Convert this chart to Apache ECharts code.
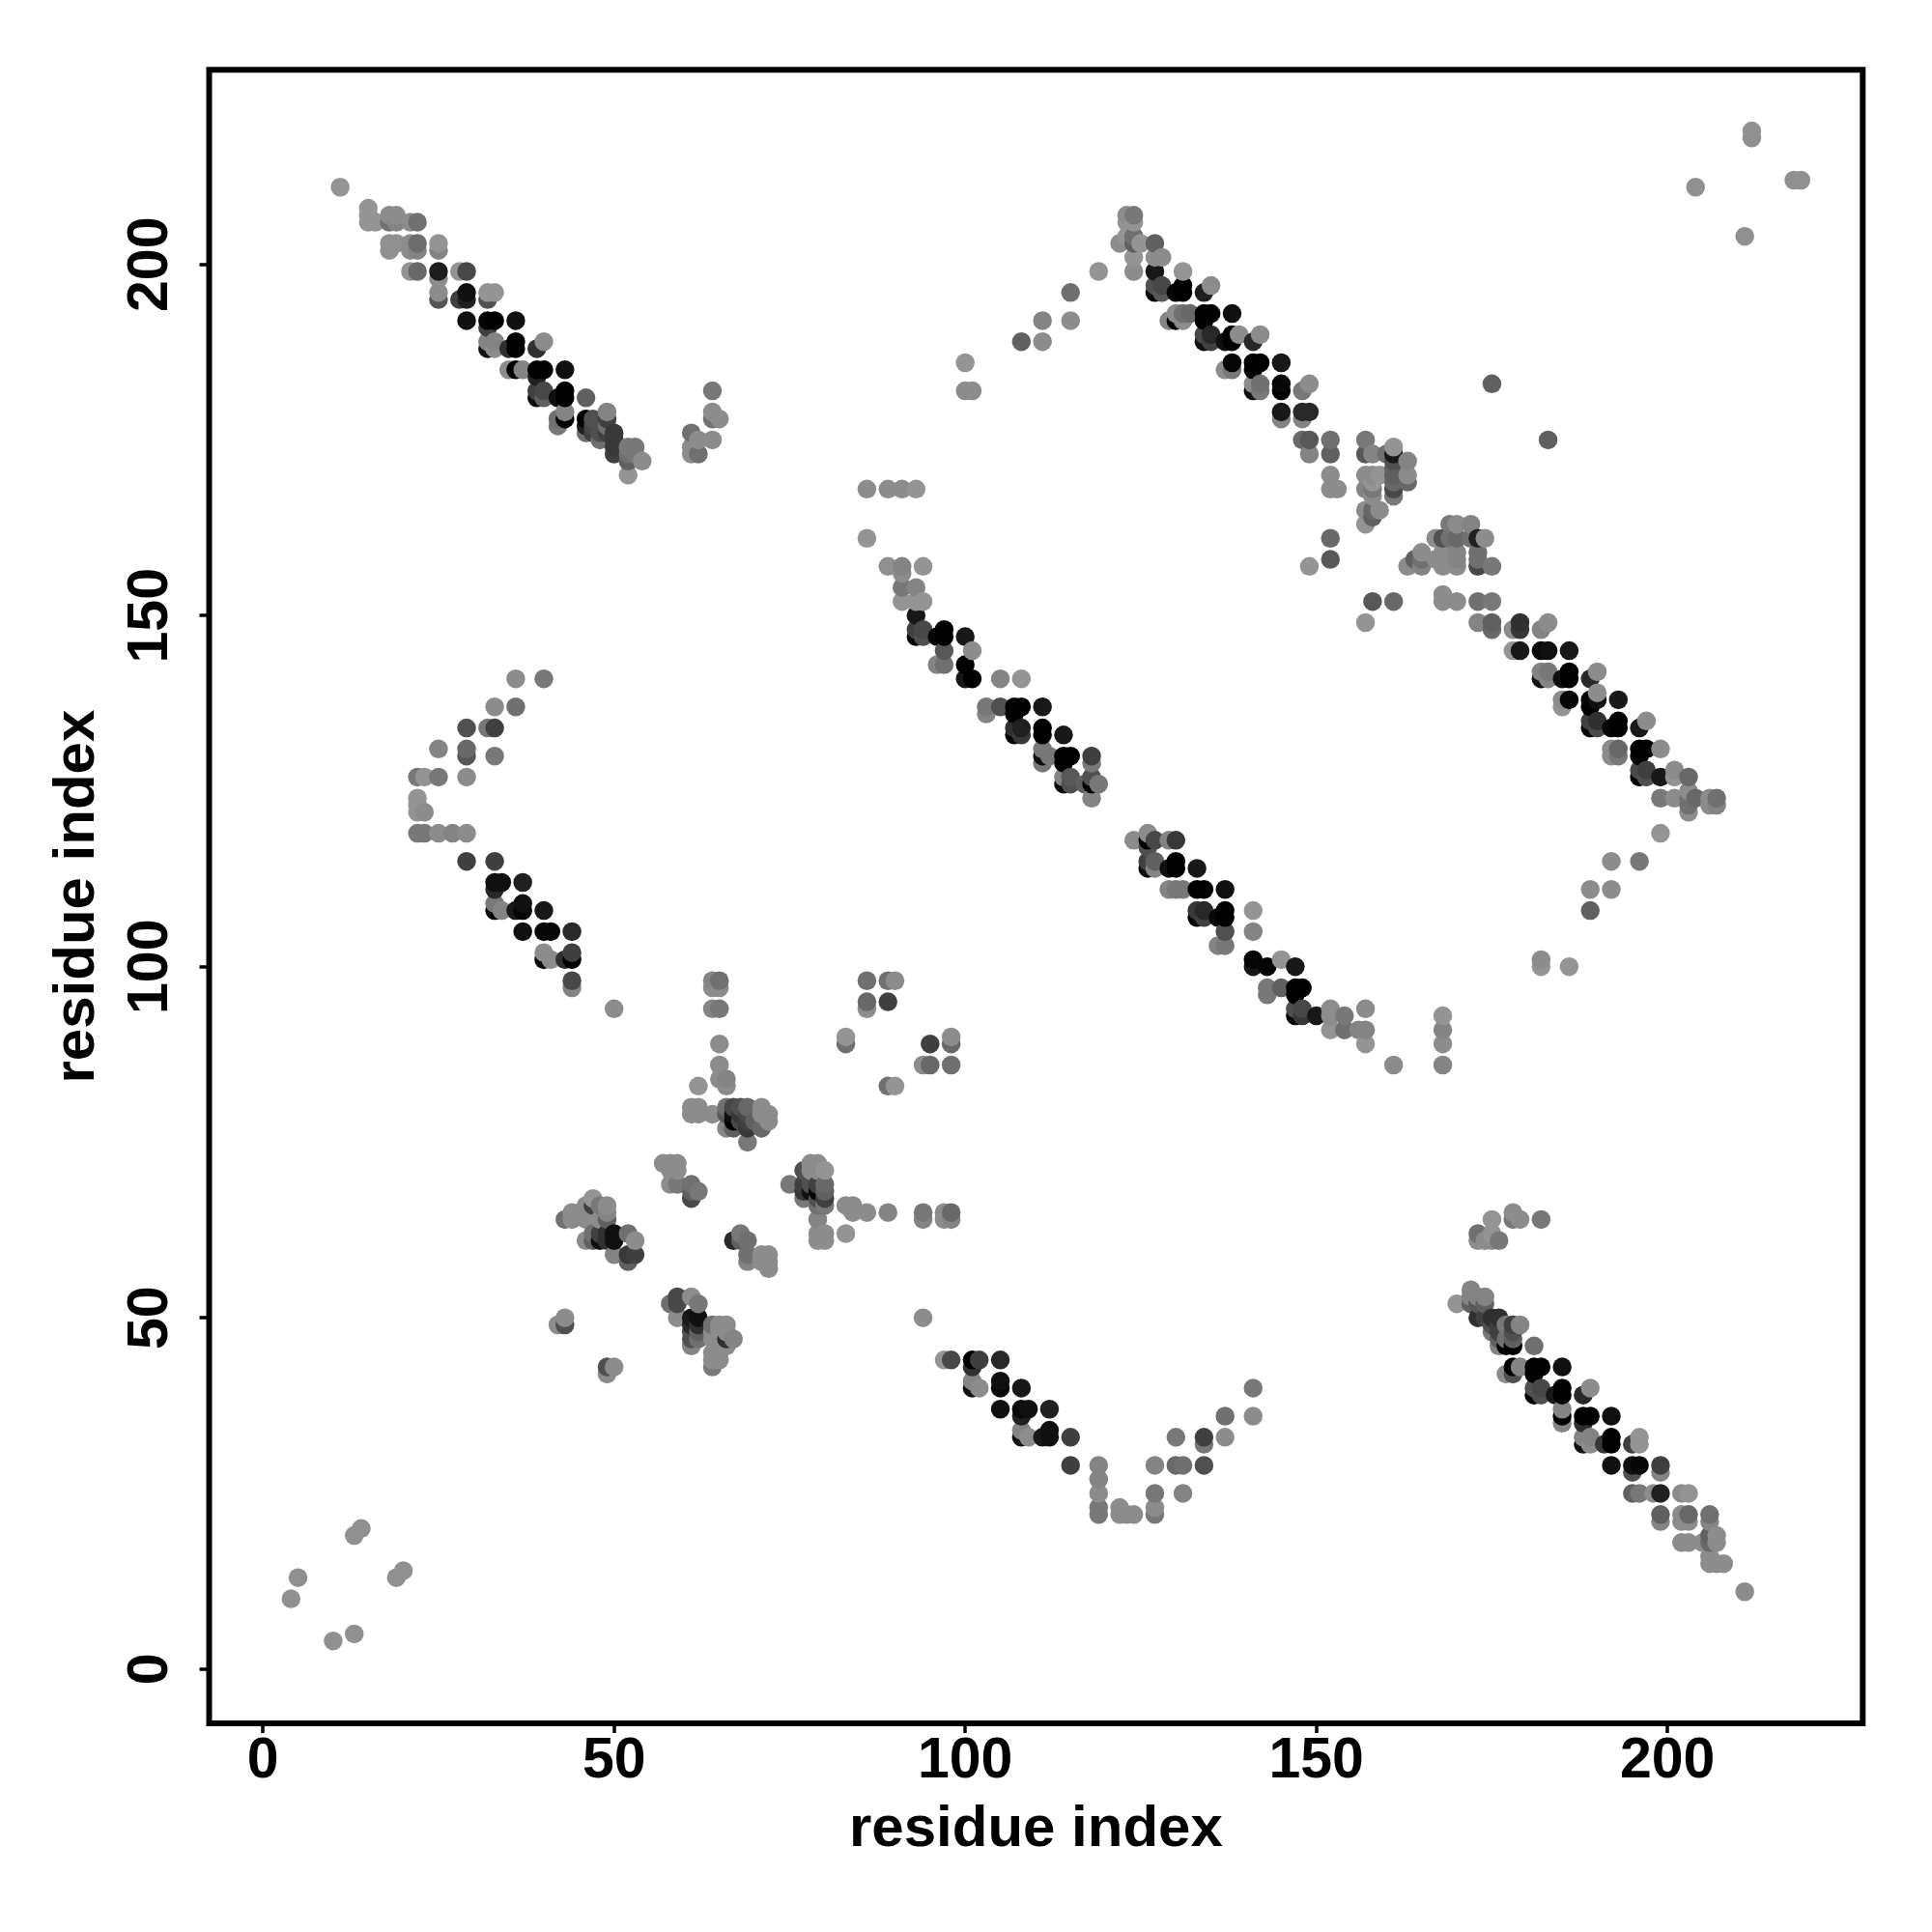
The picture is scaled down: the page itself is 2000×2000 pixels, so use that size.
<!DOCTYPE html>
<html><head><meta charset="utf-8"><title>Contact map</title>
<style>html,body{margin:0;padding:0;background:#fff}#c{width:2000px;height:2000px}</style>
<script src="https://cdn.jsdelivr.net/npm/echarts@6/dist/echarts.min.js"></script>
</head><body><div id="c"></div>
<script>
const axisTitle = "residue index";
const tickValues = [0, 50, 100, 150, 200];
// each contact: [residue i, residue j, grey level]
const cornerContacts = [[4,10,0x8c],[5,13,0x8c],[10,4,0x8c],[13,5,0x8c],[13,19,0x8c],[14,20,0x8c],[19,13,0x8c],[20,14,0x8c],
[204,211,0x8c],[211,204,0x8c],[212,219,0x8c],[212,218,0x8c],[218,212,0x8c],[219,212,0x8c]];
const helixTopLeft = [[11,211,0x90],[15,208,0x90],[15,207,0x90],[15,206,0x90],[16,206,0x90],[18,207,0x88],[19,207,0x88],[18,206,0x70],[19,206,0x80],[21,206,0x88],[22,206,0x70],
[18,203,0x8c],[18,202,0x8c],[19,203,0x8c],[21,203,0x88],[21,202,0x88],[22,203,0x6c],[22,202,0x80],[25,203,0x90],[25,202,0x80],[21,199,0x90],[22,199,0x68],[25,199,0x1c],[25,198,0x88],[25,196,0x88],[25,195,0x55],
[28,199,0x90],[29,199,0x48],[28,195,0x40],[29,196,0x10],[29,195,0x20],[32,196,0x90],[32,195,0x50],[33,196,0x90],[29,192,0x10],[32,192,0x05],[33,192,0x00],[36,192,0x10],[32,191,0x40],
[32,189,0x80],[32,188,0x10],[33,189,0x80],[33,188,0x88],[35,188,0x30],[36,189,0x00],[36,188,0x00],[39,188,0x30],[40,189,0x88],[35,185,0x88],[36,185,0x00],[37,185,0x80],[39,185,0x00],[40,185,0x00],[43,185,0x10],[39,184,0x20],
[39,182,0x40],[39,181,0x10],[40,182,0x48],[40,181,0x60],[42,181,0x10],[43,182,0x00],[43,181,0x00],[46,181,0x60],[43,179,0x80],[43,178,0x05],[42,178,0x70],[42,177,0x78],[46,178,0x00],[46,177,0x20],[46,176,0x70],
[47,178,0x50],[47,177,0x48],[47,176,0x40],[48,176,0x50],[48,175,0x70],[49,179,0x80],[49,178,0x40],[49,177,0x70],[49,176,0x40],[50,176,0x38],[50,175,0x38],[50,174,0x38],[50,173,0x40],
[52,174,0x78],[53,174,0x78],[52,172,0x60],[52,173,0x70],[53,173,0x78],[54,172,0x88],[52,170,0x90],
[64,182,0x78],[64,179,0x88],[64,178,0x70],[65,178,0x88],[61,176,0x70],[61,174,0x88],[61,173,0x88],[62,175,0x88],[62,173,0x70],[64,175,0x88]];
const helixTopMiddle = [[86,168,0x88],[89,168,0x88],[91,168,0x88],[93,168,0x90],[86,161,0x90],[100,186,0x90],[100,182,0x88],[101,182,0x88],[108,189,0x60],[111,189,0x88],[111,192,0x80],[115,192,0x88],[115,196,0x70],[119,199,0x90],
[123,207,0x88],[124,207,0x78],[123,206,0x90],[124,206,0x90],[122,203,0x88],[123,204,0x90],[124,204,0x70],[124,203,0x60],[125,203,0x90],[127,203,0x60],[124,201,0x90],[124,199,0x88],[127,201,0x88],[128,201,0x88],[127,199,0x18],[131,199,0x90],
[127,197,0x50],[127,196,0x05],[128,197,0x48],[128,196,0x58],[130,196,0x08],[131,197,0x00],[131,196,0x00],[134,196,0x20],[135,197,0x88],[130,193,0x88],[130,192,0x00],[129,192,0x80],[131,193,0x70],[131,192,0x88],[132,193,0x68],
[134,193,0x00],[135,193,0x00],[134,192,0x00],[138,193,0x10],[134,190,0x48],[134,189,0x10],[135,190,0x28],[135,189,0x40],[137,189,0x10],[138,190,0x00],[138,189,0x00],[139,190,0x88],[141,189,0x28],[142,190,0x88],
[137,185,0x88],[138,186,0x05],[138,185,0x78],[141,186,0x00],[142,186,0x00],[141,185,0x05],[145,186,0x18],[141,183,0x88],[141,182,0x10],[142,183,0x70],[142,182,0x78],[145,183,0x08],[145,182,0x00],[148,182,0x78],[149,183,0x88],
[145,179,0x18],[145,178,0x80],[148,179,0x28],[149,179,0x28],[148,178,0x80],[148,175,0x68],[149,175,0x58],[149,173,0x80],[152,175,0x70],[152,173,0x60],[152,170,0x88],[152,168,0x88],[153,168,0x88],[152,161,0x68],[152,158,0x58],[149,157,0x90]];
const helixRight = [[157,175,0x78],[157,173,0x58],[158,173,0x80],[160,173,0x70],[161,174,0x90],[161,173,0x18],[163,172,0x80],[161,172,0x50],[161,171,0x60],[161,170,0x60],[161,169,0x68],[161,168,0x48],[161,167,0x78],[163,170,0x88],[163,169,0x68],
[157,170,0x88],[158,170,0x88],[157,168,0x80],[158,169,0x90],[158,168,0x78],[158,167,0x88],[159,170,0x90],[157,165,0x88],[158,165,0x68],[158,164,0x60],[159,165,0x88],[157,163,0x90],[158,152,0x58],[161,152,0x68],[157,149,0x90],
[169,163,0x78],[170,163,0x88],[172,163,0x80],[167,161,0x88],[168,161,0x50],[169,161,0x70],[170,161,0x68],[172,161,0x70],[173,161,0x20],[174,161,0x88],[164,158,0x60],[165,159,0x88],[165,157,0x80],[165,158,0x70],[163,157,0x88],
[167,158,0x88],[168,159,0x88],[168,158,0x88],[168,157,0x88],[170,159,0x80],[170,158,0x80],[170,157,0x88],[173,159,0x70],[173,158,0x70],[173,157,0x48],[175,157,0x78],[168,153,0x88],[168,152,0x88],[170,152,0x88],[173,152,0x70],[175,152,0x78],
[173,149,0x80],[175,149,0x60],[175,148,0x68],[178,148,0x88],[179,149,0x30],[179,148,0x38],[182,148,0x80],[183,149,0x88],[178,145,0x90],[179,145,0x18],[182,145,0x08],[183,145,0x10],[186,145,0x18],
[182,142,0x80],[182,141,0x10],[183,142,0x78],[183,141,0x80],[185,141,0x10],[186,142,0x00],[186,141,0x00],[189,141,0x28],[190,142,0x88],[185,138,0x88],[185,137,0x90],[186,138,0x05],[189,138,0x05],[189,137,0x00],[190,138,0x10],[190,139,0x88],[193,138,0x18],
[189,135,0x40],[189,134,0x08],[190,135,0x30],[190,134,0x48],[192,134,0x08],[193,135,0x00],[193,134,0x00],[196,134,0x18],[197,135,0x88],[192,131,0x88],[192,130,0x88],[193,131,0x68],[193,130,0x78],[196,131,0x00],[197,131,0x00],[196,130,0x05],[199,131,0x88],
[196,128,0x48],[196,127,0x05],[197,128,0x40],[197,127,0x50],[199,127,0x18],[201,128,0x88],[201,127,0x90],[203,127,0x68],[199,124,0x78],[201,124,0x88],[203,125,0x88],[203,124,0x70],[203,123,0x70],[203,122,0x88],[204,124,0x68],[206,124,0x88],[206,123,0x88],[207,124,0x70],[207,123,0x80],[199,119,0x90],[183,175,0x60],[175,183,0x60]];
const helixCentreUpper = [[89,157,0x8c],[91,157,0x80],[91,156,0x88],[94,157,0x90],[91,154,0x78],[93,154,0x80],[91,152,0x90],[93,152,0x90],[94,152,0x90],[93,150,0x18],[93,148,0x40],[93,147,0x08],[94,148,0x48],[94,147,0x50],[96,147,0x08],[97,148,0x00],[97,147,0x00],
[100,147,0x18],[101,145,0x88],[97,145,0x58],[96,143,0x80],[97,143,0x70],[100,143,0x00],[100,141,0x18],[101,141,0x00],[105,141,0x80],[108,141,0x90],[103,137,0x78],[103,136,0x80],[105,137,0x50],[107,137,0x00],[108,137,0x00],[107,136,0x00],[111,137,0x18],
[107,134,0x30],[107,133,0x00],[108,134,0x20],[108,133,0x38],[111,134,0x00],[111,133,0x00],[114,133,0x18],[111,131,0x78],[111,130,0x10],[111,129,0x78],[112,130,0x78],[114,130,0x00],[115,130,0x00],[114,129,0x05],[118,130,0x40],[118,129,0x78],
[114,127,0x80],[114,126,0x08],[115,127,0x58],[115,126,0x50],[117,126,0x60],[118,127,0x50],[118,126,0x00],[119,126,0x78],[118,124,0x80]];
const helixCentreLower = [[124,118,0x88],[126,119,0x88],[126,118,0x00],[127,118,0x48],[126,117,0x50],[129,118,0x80],[130,118,0x38],[126,115,0x40],[126,114,0x10],[127,115,0x60],[127,114,0x80],[129,114,0x10],[130,115,0x00],[130,114,0x00],[133,114,0x18],
[129,111,0x80],[130,111,0x78],[131,111,0x78],[133,111,0x00],[134,111,0x00],[137,111,0x10],[141,108,0x90],[141,105,0x80],[133,108,0x38],[133,107,0x00],[134,108,0x28],[134,107,0x40],[136,107,0x08],[137,108,0x00],[137,107,0x00],[137,105,0x50],[136,103,0x80],[137,103,0x78],
[141,101,0x05],[141,100,0x18],[143,100,0x05],[145,101,0x90],[147,100,0x18],[143,97,0x78],[143,96,0x78],[145,97,0x60],[147,97,0x00],[148,97,0x00],[147,96,0x00],[147,94,0x50],[147,93,0x08],[148,94,0x48],[148,93,0x38],[150,93,0x18],
[152,94,0x88],[152,93,0x88],[152,91,0x90],[154,93,0x78],[154,91,0x70],[156,91,0x80],[157,91,0x80],[157,94,0x88],[157,89,0x90],[161,86,0x88],[168,93,0x90],[168,91,0x80],[168,89,0x88],[168,86,0x80],
[189,108,0x60],[189,111,0x88],[192,115,0x88],[192,111,0x88],[196,115,0x78],[182,101,0x88],[182,100,0x90],[186,100,0x90]];
const helixLeft = [[36,141,0x88],[40,141,0x78],[33,137,0x88],[36,137,0x70],[29,134,0x50],[32,134,0x78],[33,134,0x40],[25,131,0x80],[29,131,0x68],[29,130,0x58],[33,130,0x78],[22,127,0x78],[23,127,0x90],[25,127,0x78],[29,127,0x88],
[22,124,0x90],[22,123,0x90],[22,122,0x90],[23,122,0x88],[22,119,0x78],[23,119,0x78],[25,119,0x88],[27,119,0x80],[29,119,0x88],[29,115,0x40],[33,115,0x40],[33,112,0x10],[34,112,0x10],[33,111,0x28],[37,112,0x20],
[33,109,0x78],[33,108,0x05],[34,108,0x80],[36,108,0x18],[37,109,0x10],[37,108,0x05],[40,108,0x18],[37,105,0x10],[40,105,0x08],[41,105,0x08],[44,105,0x28],[40,102,0x88],[40,101,0x08],[41,101,0x88],[43,101,0x30],[44,102,0x40],[44,101,0x00],[44,98,0x48],[44,97,0x80],[50,94,0x88]];
const coreUpper = [[64,98,0x80],[65,98,0x70],[64,97,0x88],[65,97,0x88],[64,94,0x80],[65,94,0x78],[65,89,0x88],[65,86,0x88],[65,84,0x88],[66,84,0x80],[66,83,0x88],[62,83,0x90],[61,80,0x88],[62,80,0x88],[61,79,0x88],[62,79,0x88],[64,79,0x88],
[66,80,0x70],[67,80,0x48],[68,80,0x50],[69,80,0x68],[67,79,0x10],[67,78,0x00],[66,79,0x58],[68,79,0x38],[69,79,0x48],[66,77,0x80],[67,77,0x60],[68,78,0x48],[69,78,0x40],[69,77,0x38],[70,78,0x60],[71,77,0x68],[71,80,0x88],[72,79,0x88],[72,78,0x88],[71,79,0x88],[69,75,0x78],
[86,98,0x70],[89,98,0x70],[90,98,0x88],[86,95,0x68],[86,94,0x88],[89,95,0x40],[83,90,0x90],[83,89,0x70],[95,89,0x40],[98,90,0x88],[98,89,0x68],[94,86,0x88],[95,86,0x68],[98,86,0x70],[89,83,0x70],[90,83,0x90]];
const coreMiddle = [[57,72,0x88],[58,72,0x88],[59,72,0x88],[58,71,0x88],[59,71,0x88],[58,69,0x88],[59,69,0x78],[61,69,0x70],[61,68,0x60],[62,68,0x78],[61,67,0x48],
[75,69,0x78],[77,71,0x50],[77,69,0x40],[77,68,0x38],[77,67,0x78],[78,72,0x88],[79,72,0x88],[78,71,0x88],[79,71,0x88],[80,71,0x90],[78,69,0x50],[78,68,0x10],[79,68,0x05],[79,69,0x40],[79,67,0x50],[80,69,0x68],[80,68,0x60],[80,67,0x40],[79,66,0x70],[80,66,0x78],[79,64,0x80],[79,62,0x88],[79,61,0x88],[80,62,0x88],[80,61,0x88],
[83,62,0x90],[83,66,0x88],[84,66,0x88],[84,65,0x88],[86,65,0x88],[89,65,0x80],[94,65,0x78],[94,64,0x80],[97,65,0x88],[97,64,0x88],[98,65,0x68],[98,64,0x80],[94,50,0x88],
[47,67,0x90],[49,66,0x88],[46,66,0x88],[44,65,0x88],[45,65,0x88],[43,64,0x70],[44,64,0x88],[47,66,0x40],[48,66,0x78],[47,65,0x88],[49,65,0x80],[49,64,0x60],[48,64,0x88],[46,64,0x88],[46,61,0x88],[47,62,0x70],[47,61,0x60],[48,62,0x40],[48,61,0x10],[49,62,0x30],[50,62,0x10],[50,61,0x10],[49,61,0x30],[52,62,0x70],[53,61,0x88],[50,59,0x80],[52,59,0x38],[53,59,0x40],[52,58,0x60],
[67,61,0x28],[68,62,0x78],[68,61,0x60],[69,61,0x70],[69,59,0x70],[69,58,0x80],[71,59,0x88],[72,59,0x88],[71,58,0x88],[72,58,0x88],[72,57,0x88]];
const coreLower = [[58,52,0x70],[59,53,0x48],[59,52,0x48],[61,53,0x88],[62,52,0x78],[59,50,0x88],[61,50,0x18],[62,50,0x10],[61,49,0x28],[62,49,0x30],[61,48,0x50],[62,48,0x60],[61,47,0x50],[61,46,0x80],[62,47,0x70],[64,49,0x70],[65,49,0x88],[66,49,0x88],[64,48,0x88],[65,48,0x88],[66,48,0x88],[67,47,0x80],[66,47,0x30],[65,47,0x88],[66,46,0x88],[64,47,0x88],[64,45,0x88],[65,45,0x88],[64,44,0x88],[65,44,0x88],[64,43,0x78],[43,50,0x88],[42,49,0x88],[43,49,0x50],[49,43,0x50],[50,43,0x88],[49,42,0x88]];
const helixBottomMiddle = [[97,44,0x90],[98,44,0x48],[101,44,0x00],[102,44,0x40],[101,43,0x30],[105,44,0x28],[101,41,0x80],[101,40,0x10],[102,40,0x88],[105,41,0x10],[105,40,0x08],[108,40,0x18],[105,37,0x10],[108,37,0x08],[109,37,0x10],[108,36,0x20],[112,37,0x20],
[108,34,0x80],[108,33,0x10],[109,33,0x88],[111,33,0x18],[112,34,0x10],[112,33,0x10],[115,33,0x40],[115,29,0x40],[119,29,0x80],[119,27,0x80],[119,25,0x88],[119,23,0x78],[119,22,0x78],[122,23,0x88],[122,22,0x88],[123,22,0x88],[124,22,0x88],
[127,29,0x80],[127,25,0x78],[127,23,0x88],[127,22,0x78],[130,33,0x78],[130,29,0x68],[131,29,0x70],[131,25,0x80],[134,33,0x40],[134,32,0x78],[134,29,0x50],[137,36,0x70],[137,33,0x88],[141,40,0x78],[141,36,0x88]];
const helixBottomRight = [[175,64,0x90],[178,65,0x88],[178,64,0x78],[179,64,0x88],[182,64,0x78],[173,62,0x70],[173,61,0x88],[174,61,0x88],[175,62,0x90],[175,61,0x88],[176,61,0x78],
[172,54,0x80],[170,52,0x90],[172,53,0x80],[172,52,0x60],[173,53,0x80],[174,53,0x80],[173,52,0x58],[174,52,0x60],[173,50,0x30],[175,50,0x30],[176,50,0x30],[174,50,0x40],[175,49,0x50],[176,49,0x40],[175,48,0x78],[176,48,0x40],[177,49,0x78],[178,49,0x40],[179,49,0x80],[176,47,0x60],[177,47,0x70],[178,48,0x50],[178,47,0x60],[176,46,0x80],[177,46,0x05],[178,46,0x00],[181,46,0x70],
[177,42,0x88],[178,43,0x00],[178,42,0x50],[179,43,0x80],[181,43,0x00],[182,43,0x00],[181,42,0x00],[185,43,0x10],[181,40,0x50],[181,39,0x00],[182,40,0x48],[182,39,0x50],[184,39,0x18],[185,40,0x00],[185,39,0x00],[188,39,0x28],[189,40,0x88],
[185,37,0x80],[185,36,0x00],[185,35,0x80],[188,36,0x00],[189,36,0x00],[188,35,0x30],[192,36,0x10],[188,33,0x80],[188,32,0x10],[189,33,0x80],[189,32,0x88],[191,32,0x38],[192,33,0x00],[192,32,0x00],[195,32,0x40],[196,33,0x90],[196,32,0x90],
[192,29,0x10],[195,29,0x10],[196,29,0x08],[195,28,0x50],[199,29,0x40],[199,28,0x80],[195,25,0x60],[196,25,0x78],[198,25,0x88],[199,25,0x20],[202,25,0x88],[203,25,0x90],[199,22,0x60],[199,21,0x80],[202,22,0x88],[203,22,0x68],[202,21,0x88],[203,21,0x88],[206,22,0x70],[206,21,0x80],
[202,18,0x88],[203,18,0x88],[205,18,0x88],[206,19,0x60],[206,18,0x68],[207,19,0x88],[207,18,0x88],[206,16,0x88],[206,15,0x88],[207,15,0x88],[208,15,0x88],[211,11,0x88]];

const contacts = [].concat(cornerContacts, helixTopLeft, helixTopMiddle, helixRight, helixCentreUpper, helixCentreLower, helixLeft, coreUpper, coreMiddle, coreLower, helixBottomMiddle, helixBottomRight)
  .sort((a, b) => a[0] - b[0] || a[1] - b[1]);
const shade = g => { const v = g >= 0x80 ? g + 4 : g; return `rgb(${v},${v},${v})`; };
const points = contacts.map(c => ({ value: [c[0], c[1]], itemStyle: { color: shade(c[2]) } }));

const font = '"Liberation Sans", Arial, sans-serif';
const titleStyle = { color: '#000', fontFamily: font, fontWeight: 'bold', fontSize: 60 };
const labelStyle = { show: true, color: '#000', fontFamily: font, fontWeight: 'bold', fontSize: 59, customValues: tickValues };
const tickStyle = { show: true, length: 10, lineStyle: { color: '#000', width: 3.5 }, customValues: tickValues };
const chart = echarts.init(document.getElementById('c'), null, { renderer: 'canvas' });
chart.setOption({
  animation: false, backgroundColor: '#fff',
  grid: { show: true, left: 216.5, top: 72.2, width: 1711.8, height: 1711.8, borderColor: '#000', borderWidth: 6, backgroundColor: '#fff' },
  xAxis: { type: 'value', position: 'bottom', name: axisTitle, nameLocation: 'middle', nameGap: 80, min: -7.66, max: 227.8,
    nameTextStyle: titleStyle, axisLine: { show: false, onZero: false }, splitLine: { show: false }, axisTick: tickStyle,
    axisLabel: Object.assign({ margin: 10 }, labelStyle) },
  yAxis: { type: 'value', position: 'left', name: axisTitle, nameLocation: 'middle', nameGap: 106, min: -7.74, max: 227.72,
    nameTextStyle: titleStyle, axisLine: { show: false, onZero: false }, splitLine: { show: false }, axisTick: tickStyle,
    axisLabel: Object.assign({ margin: 30, rotate: 90 }, labelStyle) },
  series: [{ type: 'scatter', symbol: 'circle', symbolSize: 19.5, data: points, clip: false, itemStyle: { opacity: 1 } }]
});
</script></body></html>
